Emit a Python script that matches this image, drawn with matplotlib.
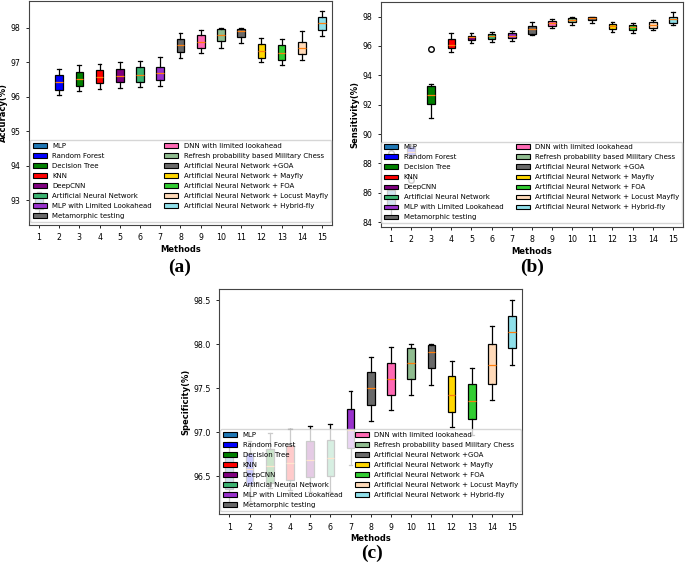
import numpy as np
import matplotlib
matplotlib.use("Agg")
import matplotlib.pyplot as plt
from matplotlib.patches import Patch
from matplotlib.ticker import MultipleLocator, FormatStrFormatter

# ------------------------------------------------------------
# Data: box statistics (15 methods)
# ------------------------------------------------------------
methods = [
    "MLP", "Random Forest", "Decision Tree", "KNN", "DeepCNN",
    "Artificial Neural Network", "MLP with Limited Lookahead",
    "Metamorphic testing", "DNN with limited lookahead",
    "Refresh probability based Military Chess",
    "Artificial Neural Network +GOA", "Artificial Neural Network + Mayfly",
    "Artificial Neural Network + FOA",
    "Artificial Neural Network + Locust Mayfly",
    "Artificial Neural Network + Hybrid-fly",
]
colors = [
    "#1f77b4", "blue", "green", "red", "purple", "mediumseagreen",
    "darkorchid", "dimgray", "hotpink", "darkseagreen", "dimgray",
    "gold", "limegreen", "peachpuff", "#8fe0ea",
]

# Accuracy
acc_lo = [92.57, 96.06, 96.18, 96.23, 96.27, 96.29, 96.32, 97.13, 97.26, 97.42, 97.55, 97.00, 96.93, 97.06, 97.78]
acc_q1 = [92.75, 96.19, 96.32, 96.39, 96.42, 96.44, 96.50, 97.31, 97.42, 97.61, 97.74, 97.13, 97.08, 97.25, 97.95]
acc_med = [92.90, 96.44, 96.53, 96.58, 96.61, 96.64, 96.69, 97.50, 97.59, 97.81, 97.90, 97.33, 97.28, 97.42, 98.14]
acc_q3 = [93.08, 96.64, 96.71, 96.77, 96.81, 96.86, 96.87, 97.68, 97.79, 97.97, 97.98, 97.54, 97.50, 97.60, 98.32]
acc_hi = [93.22, 96.82, 96.91, 96.96, 97.00, 97.04, 97.17, 97.86, 97.95, 97.99, 97.99, 97.72, 97.68, 97.90, 98.50]
acc_fl = [[] for _ in range(15)]

# Sensitivity
sen_lo = [84.39, 88.45, 91.08, 95.56, 96.19, 96.26, 96.33, 96.73, 97.25, 97.44, 97.57, 96.96, 96.89, 97.10, 97.41]
sen_q1 = [84.87, 88.55, 92.06, 95.83, 96.40, 96.49, 96.53, 96.85, 97.39, 97.62, 97.75, 97.16, 97.12, 97.25, 97.57]
sen_med = [85.60, 88.75, 92.69, 96.05, 96.58, 96.67, 96.71, 97.14, 97.55, 97.80, 97.90, 97.34, 97.28, 97.44, 97.82]
sen_q3 = [86.22, 89.20, 93.25, 96.46, 96.71, 96.80, 96.87, 97.34, 97.71, 97.93, 97.99, 97.50, 97.44, 97.62, 98.00]
sen_hi = [86.30, 89.35, 93.41, 96.87, 96.89, 96.96, 97.03, 97.66, 97.86, 98.00, 98.00, 97.66, 97.57, 97.77, 98.32]
sen_fl = [[88.7], [86.9], [95.79]] + [[] for _ in range(12)]

# Specificity
spe_lo = [96.18, 96.22, 96.36, 96.34, 96.32, 96.32, 96.63, 97.13, 97.25, 97.42, 97.54, 97.06, 96.97, 97.37, 97.77]
spe_q1 = [96.35, 96.40, 96.42, 96.46, 96.49, 96.50, 96.82, 97.31, 97.42, 97.61, 97.73, 97.23, 97.15, 97.55, 97.96]
spe_med = [96.55, 96.58, 96.62, 96.65, 96.68, 96.71, 97.03, 97.50, 97.61, 97.79, 97.91, 97.42, 97.36, 97.77, 98.14]
spe_q3 = [96.74, 96.76, 96.81, 96.85, 96.90, 96.91, 97.26, 97.68, 97.79, 97.96, 97.99, 97.64, 97.55, 98.00, 98.32]
spe_hi = [96.89, 96.90, 96.99, 97.04, 97.07, 97.09, 97.47, 97.86, 97.97, 98.00, 98.00, 97.81, 97.73, 98.21, 98.51]
spe_fl = [[] for _ in range(15)]


def make_stats(lo, q1, med, q3, hi, fl):
    return [dict(whislo=a, q1=b, med=c, q3=d, whishi=e, fliers=f)
            for a, b, c, d, e, f in zip(lo, q1, med, q3, hi, fl)]


def draw(ax, stats, ylabel, step):
    bp = ax.bxp(
        stats, positions=range(1, 16), widths=0.38, patch_artist=True,
        boxprops=dict(edgecolor="black", linewidth=0.9),
        medianprops=dict(color="#ff7f0e", linewidth=0.9),
        whiskerprops=dict(color="black", linewidth=0.9),
        capprops=dict(color="black", linewidth=0.9),
        flierprops=dict(marker="o", markerfacecolor="none",
                        markeredgecolor="black", markersize=4),
    )
    for patch, c in zip(bp["boxes"], colors):
        patch.set_facecolor(c)
    ax.set_xlim(0.5, 15.5)
    ax.yaxis.set_major_locator(MultipleLocator(step))
    ax.tick_params(labelsize=5.7, length=2.5, width=0.6)
    ax.set_xlabel("Methods", fontsize=6, fontweight="bold", labelpad=2)
    ax.set_ylabel(ylabel, fontsize=6, fontweight="bold", labelpad=2)
    for s in ax.spines.values():
        s.set_linewidth(0.8)
        s.set_color("#444444")
    handles = [Patch(facecolor=c, edgecolor="black", linewidth=0.8) for c in colors]
    ax.legend(handles, methods, loc="lower center", ncol=2, fontsize=5,
              labelspacing=0.58, handlelength=2.0, columnspacing=1.8,
              borderaxespad=0.5)


fig = plt.figure(figsize=(6.85, 5.64), dpi=100)

ax_a = fig.add_axes([0.042, 0.601, 0.443, 0.398])
draw(ax_a, make_stats(acc_lo, acc_q1, acc_med, acc_q3, acc_hi, acc_fl), "Accuracy(%)", 1)

ax_b = fig.add_axes([0.556, 0.598, 0.441, 0.399])
draw(ax_b, make_stats(sen_lo, sen_q1, sen_med, sen_q3, sen_hi, sen_fl), "Sensitivity(%)", 2)

ax_c = fig.add_axes([0.320, 0.088, 0.4425, 0.399])
draw(ax_c, make_stats(spe_lo, spe_q1, spe_med, spe_q3, spe_hi, spe_fl), "Specificity(%)", 0.5)
ax_c.yaxis.set_major_formatter(FormatStrFormatter("%.1f"))

lab = dict(fontsize=14, fontweight="bold", family="Liberation Serif", ha="center", va="center")
fig.text(180 / 685, 1 - 267 / 564, "(a)", **lab)
fig.text(532 / 685, 1 - 267 / 564, "(b)", **lab)
fig.text(372 / 685, 1 - 553 / 564, "(c)", **lab)

fig.savefig("out.png", dpi=100)
